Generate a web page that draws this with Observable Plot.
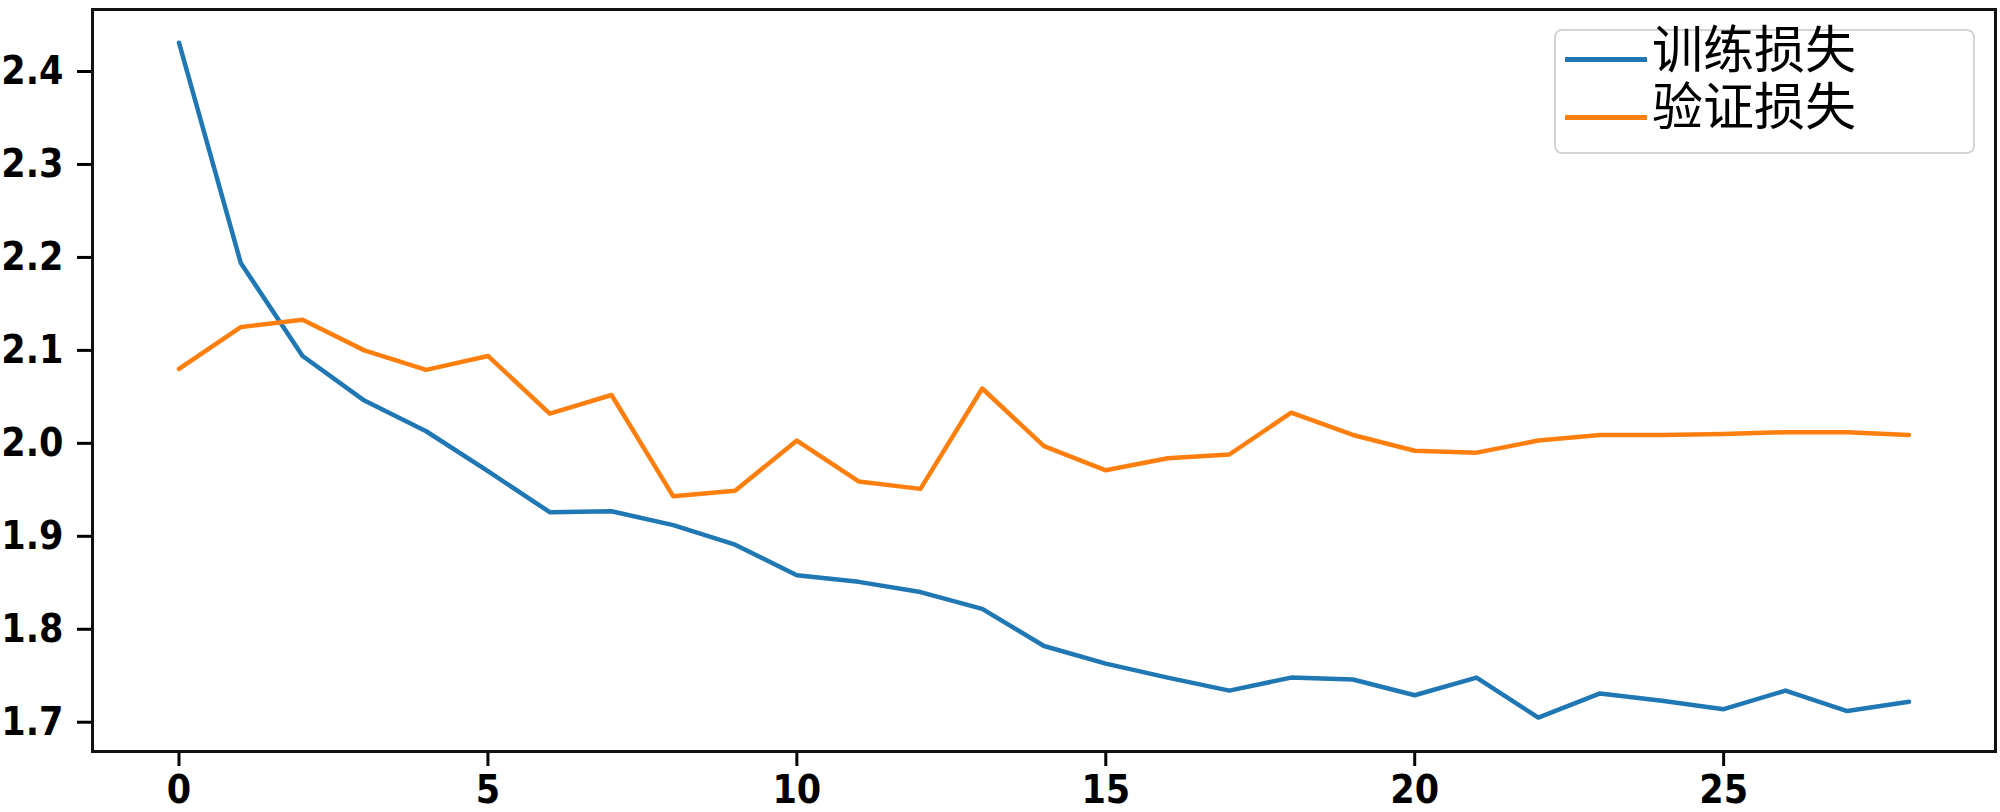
<!DOCTYPE html>
<html><head><meta charset="utf-8">
<script src="https://cdn.jsdelivr.net/npm/d3@7"></script>
<script src="https://cdn.jsdelivr.net/npm/@observablehq/plot@0.6"></script>
<style>
body{margin:0;background:#fff;}
#wrap{position:relative;width:2000px;height:812px;overflow:hidden;}
#legend{position:absolute;left:1554px;top:29px;width:417px;height:121px;border:2px solid #d4d4d4;border-radius:8px;background:rgba(255,255,255,0.8);}
.sw{position:absolute;height:5px;width:82px;}
.lt{position:absolute;left:1652px;font-family:"Liberation Serif","Noto Sans CJK SC",sans-serif;font-size:51px;line-height:51px;color:#000;white-space:nowrap;}
</style></head><body><div id="wrap"></div>
<script>
const epochs = [0,1,2,3,4,5,6,7,8,9,10,11,12,13,14,15,16,17,18,19,20,21,22,23,24,25,26,27,28];
const trainLoss = [2.431,2.194,2.094,2.046,2.013,1.970,1.926,1.927,1.912,1.891,1.858,1.851,1.840,1.822,1.782,1.763,1.748,1.734,1.748,1.746,1.729,1.748,1.705,1.731,1.723,1.714,1.734,1.712,1.722];
const valLoss = [2.080,2.125,2.133,2.100,2.079,2.094,2.032,2.052,1.943,1.949,2.003,1.959,1.951,2.059,1.997,1.971,1.984,1.988,2.033,2.009,1.992,1.990,2.003,2.009,2.009,2.010,2.012,2.012,2.009];
const seriesNames = ["训练损失","验证损失"];
const seriesColors = ["#1f77b4","#ff7f0e"];
const xTicks = [0,5,10,15,20,25];
const yTicks = [1.7,1.8,1.9,2.0,2.1,2.2,2.3,2.4];

const rows = [
  ...epochs.map((e,i)=>({epoch:e, loss:trainLoss[i], series:seriesNames[0]})),
  ...epochs.map((e,i)=>({epoch:e, loss:valLoss[i], series:seriesNames[1]}))
];

const tickFont = {fontFamily:"'DejaVu Sans Condensed','DejaVu Sans',sans-serif", fontWeight:"bold", fontSize:39};

const chart = Plot.plot({
  width:2000, height:812,
  marginLeft:92, marginRight:5, marginTop:9, marginBottom:61,
  style:{background:"#fff", color:"#000", overflow:"visible"},
  x:{domain:[-1.4,29.4]},
  y:{domain:[1.6685,2.4667]},
  color:{domain:seriesNames, range:seriesColors},
  marks:[
    Plot.line(rows,{x:"epoch", y:"loss", stroke:"series", strokeWidth:4.5, z:"series"}),
    Plot.axisX({ticks:xTicks, tickSize:15, tickPadding:9, strokeWidth:3, label:null, tickFormat:d=>String(d), ...tickFont}),
    Plot.axisY({ticks:yTicks, tickSize:15, tickPadding:14, strokeWidth:3, label:null, tickFormat:d3.format(".1f"), ...tickFont}),
    Plot.frame({stroke:"#111", strokeWidth:3})
  ]
});
const wrap = document.getElementById("wrap");
wrap.appendChild(chart);

const lg = document.createElement("div");
lg.id = "legend";
wrap.appendChild(lg);
const swTops = [59,117];
const txtCenters = [51,108];
seriesNames.forEach((name,i)=>{
  const sw = document.createElement("div");
  sw.className = "sw";
  sw.style.background = seriesColors[i];
  sw.style.left = "1565px";
  sw.style.top = (swTops[i]-2.5) + "px";
  wrap.appendChild(sw);
  const t = document.createElement("div");
  t.className = "lt";
  t.textContent = name;
  t.style.top = (txtCenters[i]-25.5) + "px";
  wrap.appendChild(t);
});
</script></body></html>
